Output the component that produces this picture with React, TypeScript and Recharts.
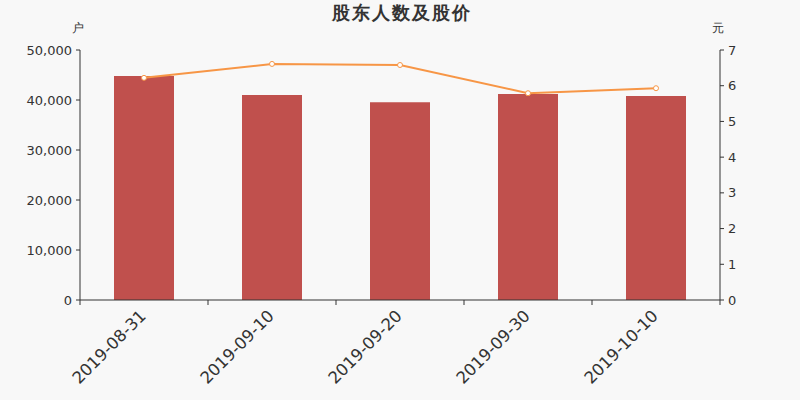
import React from 'react';
import { ComposedChart, Bar, Line, XAxis, YAxis } from 'recharts';

const dates = ['2019-08-31', '2019-09-10', '2019-09-20', '2019-09-30', '2019-10-10'];
const holders = [44800, 41000, 39550, 41200, 40800];
const prices = [6.22, 6.61, 6.58, 5.79, 5.93];
const leftTicks = [0, 10000, 20000, 30000, 40000, 50000];
const rightTicks = [0, 1, 2, 3, 4, 5, 6, 7];

const W = 800;
const H = 400;
const PLOT_LEFT = 80;
const PLOT_RIGHT = 720;
const band = (PLOT_RIGHT - PLOT_LEFT) / dates.length;
const FONT = '"DejaVu Sans", sans-serif';
const TEXT = '#333';

const data = dates.map((d, i) => ({ date: d, holders: holders[i], price: prices[i] }));

// echarts-style ticks: marks on category boundaries, labels rotated 45deg
const DateTick = ({ x, y, payload, index }: any) => {
  const left = x - band / 2;
  const ax = x + 3;
  const ay = y + 9;
  return (
    <g>
      <line x1={left} y1={y - 8} x2={left} y2={y - 3} stroke={TEXT} />
      {index === dates.length - 1 && (
        <line x1={left + band} y1={y - 8} x2={left + band} y2={y - 3} stroke={TEXT} />
      )}
      <text
        x={ax}
        y={ay}
        textAnchor="end"
        fontSize={16.5}
        fill={TEXT}
        fontFamily={FONT}
        transform={`rotate(-45, ${ax}, ${ay})`}
      >
        {payload.value}
      </text>
    </g>
  );
};

export default function App() {
  return (
    <div style={{ position: 'absolute', left: 0, top: 0, width: W, height: H, background: '#f8f8f8', fontFamily: FONT }}>
      <div
        style={{
          position: 'absolute',
          top: 2,
          left: 2,
          width: W,
          textAlign: 'center',
          fontSize: 18,
          lineHeight: '22px',
          letterSpacing: 2,
          fontWeight: 'bold',
          color: TEXT,
        }}
      >
        股东人数及股价
      </div>
      <div style={{ position: 'absolute', top: 20, left: 72, fontSize: 12, color: TEXT }}>户</div>
      <div style={{ position: 'absolute', top: 20, left: 712, fontSize: 12, color: TEXT }}>元</div>
      <ComposedChart width={W} height={H} data={data} margin={{ top: 50, right: 10, bottom: 0, left: 10 }}>
        <XAxis
          dataKey="date"
          height={100}
          interval={0}
          tickLine={false}
          axisLine={{ stroke: TEXT }}
          tick={<DateTick />}
        />
        <YAxis
          yAxisId="left"
          width={70}
          domain={[0, 50000]}
          ticks={leftTicks}
          tickFormatter={(v: number) => v.toLocaleString('en-US')}
          tick={{ fontSize: 13, fill: TEXT, fontFamily: FONT }}
          tickSize={4}
          tickMargin={4}
          axisLine={{ stroke: TEXT }}
          tickLine={{ stroke: TEXT }}
        />
        <YAxis
          yAxisId="right"
          orientation="right"
          width={70}
          domain={[0, 7]}
          ticks={rightTicks}
          tick={{ fontSize: 13, fill: TEXT, fontFamily: FONT }}
          tickSize={4}
          tickMargin={4}
          axisLine={{ stroke: TEXT }}
          tickLine={{ stroke: TEXT }}
        />
        <Bar yAxisId="left" dataKey="holders" fill="#c0504d" barSize={60} isAnimationActive={false} />
        <Line
          yAxisId="right"
          dataKey="price"
          stroke="#f79646"
          strokeWidth={2}
          dot={{ r: 2.5, fill: '#fff', stroke: '#f79646', strokeWidth: 1 }}
          activeDot={false}
          isAnimationActive={false}
        />
      </ComposedChart>
    </div>
  );
}
